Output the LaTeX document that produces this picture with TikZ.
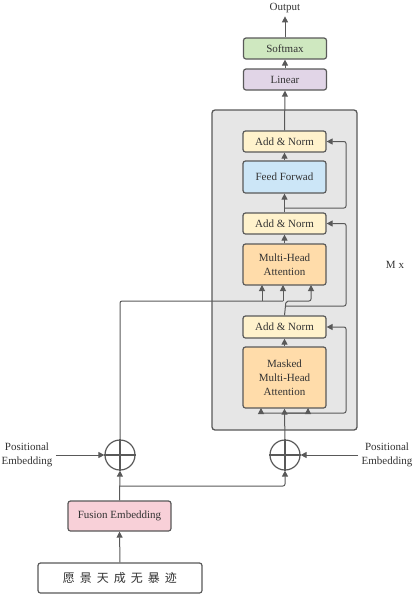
\documentclass[tikz,border=0pt]{standalone}
\usepackage{fontspec}
\setmainfont{Liberation Serif}
\newfontfamily\cjk{Noto Sans CJK SC}
\usetikzlibrary{arrows.meta}

\definecolor{linegray}{HTML}{595959}
\definecolor{boxgray}{HTML}{E6E6E6}
\definecolor{smgreen}{HTML}{CFE8C0}
\definecolor{linpurple}{HTML}{E1D5E7}
\definecolor{normyellow}{HTML}{FFF2CC}
\definecolor{ffblue}{HTML}{CCE6F7}
\definecolor{attorange}{HTML}{FFDCAA}
\definecolor{fusepink}{HTML}{F8D0D8}

\begin{document}
\begin{tikzpicture}[x=1pt, y=-1pt,
    every node/.style={font=\fontsize{11}{14}\selectfont, text=black!80},
    blk/.style={draw=linegray, line width=1.2pt, rounded corners=2.5pt,
        minimum width=83pt, inner sep=0pt, align=center},
    sum/.style={draw=linegray, line width=1.2pt, circle, minimum size=30pt, inner sep=0pt},
    conn/.style={draw=linegray, line width=1pt, rounded corners=2pt,
        -{Triangle[length=6pt, width=6pt]}},
    wire/.style={draw=linegray, line width=1pt, rounded corners=2pt}]
    \useasboundingbox (0,0) rectangle (416,598);

    % decoder stack
    \node[draw=linegray, fill=boxgray, line width=1.3pt, rounded corners=3pt,
        minimum width=145pt, minimum height=320pt] (stack) at (284.5,270) {};

    \node (out) at (285,8) {Output};
    \node[blk, fill=smgreen, minimum height=21pt] (soft) at (285,48.5) {Softmax};
    \node[blk, fill=linpurple, minimum height=21pt] (lin) at (285,79.5) {Linear};

    \node[blk, fill=normyellow, minimum height=21pt] (an3) at (284.5,141.5) {Add \& Norm};
    \node[blk, fill=ffblue, minimum height=32pt] (ff) at (284.5,177) {Feed Forwad};
    \node[blk, fill=normyellow, minimum height=21pt] (an2) at (284.5,223.5) {Add \& Norm};
    \node[blk, fill=attorange, minimum height=41pt] (mha) at (284.5,264.5) {Multi-Head\\Attention};
    \node[blk, fill=normyellow, minimum height=22pt] (an1) at (284.5,327) {Add \& Norm};
    \node[blk, fill=attorange, minimum height=61pt] (mmha) at (284.5,377.5) {Masked\\Multi-Head\\Attention};

    \node (mx) at (395,265) {M x};

    % inputs
    \node[sum] (lsum) at (120,455) {};
    \node[sum] (rsum) at (285,455) {};
    \draw[linegray, line width=1.2pt] (lsum.north) -- (lsum.south) (lsum.west) -- (lsum.east);
    \draw[linegray, line width=1.2pt] (rsum.north) -- (rsum.south) (rsum.west) -- (rsum.east);

    \node[align=center] (lpos) at (27,455) {Positional\\Embedding};
    \node[align=center] (rpos) at (387,455) {Positional\\Embedding};

    \node[blk, fill=fusepink, minimum width=103pt, minimum height=30pt] (fuse) at (119.5,516) {Fusion Embedding};
    \node[blk, fill=white, minimum width=164pt, minimum height=30pt] (inp) at (120,578)
        {\cjk\fontsize{12}{14}\selectfont 愿\hspace{5pt}景\hspace{5pt}天\hspace{5pt}成\hspace{5pt}无\hspace{5pt}暴\hspace{5pt}迹};

    \coordinate (fsplit) at (120,486);

    \draw[conn] (inp.north) -- (fuse.south);
    \draw[conn] (fuse.north) -- (lsum.south);
    \draw[conn] (fsplit) -| (rsum.south);
    \draw[conn] (lpos.east) -- (lsum.west);
    \draw[conn] (rpos.west) -- (rsum.east);

    % masked attention inputs
    \draw[wire] (rsum.north) -- (284.5,413);
    \draw[conn] (284.5,413) -| (261,408);
    \draw[conn] (284.5,413) -- (mmha.south);
    \draw[conn] (284.5,413) -| (308,408);
    \draw[conn] (284.5,413) -| (346,327) -- (an1.east);
    \draw[conn] (mmha.north) -- (an1.south);

    % cross attention inputs
    \draw[wire] (lsum.north) |- (283,301);
    \draw[conn] (262,301) -- (262,285);
    \draw[conn] (283,301) -- (283,285);
    \draw[conn] (an1.north) -- (286,301) -| (311,285);
    \draw[conn] (285,306) -| (346,223.5) -- (an2.east);
    \draw[conn] (mha.north) -- (an2.south);

    % feed forward
    \draw[conn] (an2.north) -- (ff.south);
    \draw[conn] (284.5,208) -| (346,141.5) -- (an3.east);
    \draw[conn] (ff.north) -- (an3.south);

    % output
    \draw[conn] (an3.north) -- (lin.south);
    \draw[conn] (lin.north) -- (soft.south);
    \draw[conn] (soft.north) -- (out.south);
\end{tikzpicture}
\end{document}
